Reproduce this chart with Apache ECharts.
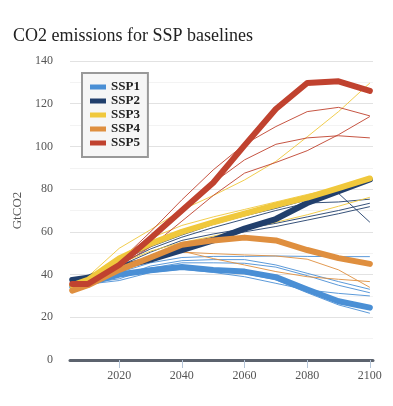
<!DOCTYPE html>
<html>
<head>
<meta charset="utf-8">
<script src="https://cdn.jsdelivr.net/npm/echarts@6/dist/echarts.min.js"></script>
<style>
html,body{margin:0;padding:0;background:#fff;}
#chart{width:393px;height:406px;}
</style>
</head>
<body>
<div id="chart"></div>
<script>
const years = [2005, 2010, 2020, 2030, 2040, 2050, 2060, 2070, 2080, 2090, 2100];
const xTickLabels = [2020, 2040, 2060, 2080, 2100];
const scenarios = ['SSP1', 'SSP2', 'SSP3', 'SSP4', 'SSP5'];
const colors = ['#4a8fd5', '#213f6c', '#f0c83c', '#df8f3f', '#c0422f'];

// marker (thick) scenarios, GtCO2
const ssp1Marker = [34.3, 36, 40, 42, 43.5, 42.2, 41.4, 38.8, 33, 27.5, 24.5];
const ssp2Marker = [37.5, 38.5, 43.5, 47, 51.5, 56, 61.5, 66, 73.5, 79, 84.5];
const ssp3Marker = [35, 37.5, 47.5, 54.5, 60, 64.5, 68.5, 72.5, 76, 80.5, 85];
const ssp4Marker = [32.5, 35, 42.2, 48, 54, 56, 57.3, 56, 51.5, 47.7, 45];
const ssp5Marker = [35.6, 35.6, 44.5, 57, 70, 83, 100.5, 117.5, 129.7, 130.5, 126];

// other models (thin lines)
const ssp1Others = [
  [34.5, 36.5, 41, 45.5, 48, 48.5, 48.5, 48.7, 48.5, 48.4, 48.4],
  [34.5, 36.5, 39, 44, 46.5, 47, 47, 44.5, 40.6, 36.7, 33.1],
  [34, 36, 38, 43, 45.5, 45.5, 45.3, 43.5, 39.5, 35, 31.5],
  [34, 35.5, 37.2, 41, 42.5, 41, 39, 35.9, 32.8, 31.2, 30],
  [34.5, 36, 39.5, 42, 43, 41.5, 40.5, 37.5, 31.5, 25.8, 21.9]
];
const ssp2Others = [
  [36, 39, 46, 53, 58.5, 63.5, 67.5, 71, 75, 78, 64.5],
  [36, 38.5, 45, 52, 57.5, 62, 66, 70, 73.5, 74, 75.3],
  [35, 38, 44, 50.5, 56, 59, 61.5, 64, 67, 70, 73.4],
  [35, 37.5, 43, 49, 54.5, 57.5, 60, 62.5, 65.5, 68.5, 71.8]
];
const ssp3Others = [
  [35, 39, 52.3, 61, 70.3, 77, 84.3, 93, 104.5, 116.3, 129.7],
  [35, 38, 45, 51, 55, 58, 61, 64.5, 68, 72, 76.2],
  [35.5, 38.5, 48, 57, 63, 67, 70.5, 74, 77.5, 80.5, 85]
];
const ssp4Others = [
  [33.5, 36, 43, 48, 50.5, 49.8, 49.2, 48.7, 47.2, 42.2, 34],
  [33.5, 36, 43.5, 48.5, 51, 47.5, 44.5, 41.4, 39, 37.8, 36.7]
];
const ssp5Others = [
  [35, 38, 46, 60, 75, 89, 101, 109.3, 116.3, 118.3, 114.3],
  [35, 38, 46, 58, 71, 83, 93.7, 101, 104, 105, 104],
  [35, 37, 44, 53, 65, 77, 87.5, 92.5, 98, 105.5, 114]
];

const markers = [ssp1Marker, ssp2Marker, ssp3Marker, ssp4Marker, ssp5Marker];
const others = [ssp1Others, ssp2Others, ssp3Others, ssp4Others, ssp5Others];

const pairs = v => years.map((y, i) => [y, v[i]]);
const serif = "'Liberation Serif', 'Times New Roman', serif";

const series = [];
// thin lines first
others.forEach((group, k) => {
  group.forEach(vals => {
    series.push({
      name: scenarios[k], type: 'line', data: pairs(vals),
      showSymbol: false, silent: true, z: 2,
      color: colors[k],
      lineStyle: { width: 1, color: colors[k], opacity: 0.9 }
    });
  });
});
// thick markers on top
markers.forEach((vals, k) => {
  series.push({
    name: scenarios[k], type: 'line', data: pairs(vals),
    showSymbol: false, z: 3 + k,
    color: colors[k],
    lineStyle: { width: 6, color: colors[k], cap: 'round', join: 'round' }
  });
});

const chart = echarts.init(document.getElementById('chart'));
chart.setOption({
  animation: false,
  title: {
    text: 'CO2 emissions for SSP baselines',
    left: 8, top: 22,
    textStyle: { fontFamily: serif, fontSize: 18, fontWeight: 'normal', color: '#222' }
  },
  legend: {
    data: scenarios,
    orient: 'vertical',
    left: 82, top: 73,
    padding: [7, 8, 7, 8],
    itemWidth: 16, itemHeight: 5, itemGap: 0,
    icon: 'rect',
    backgroundColor: '#f6f6f6',
    borderColor: '#999', borderWidth: 2, borderRadius: 0,
    textStyle: { fontFamily: serif, fontSize: 13, fontWeight: 'bold', color: '#222', lineHeight: 14 }
  },
  grid: { left: 70, right: 20, top: 61, bottom: 46, containLabel: false },
  xAxis: {
    type: 'value', min: 2004.3, max: 2101,
    axisLine: { show: true, lineStyle: { color: '#5c636e', width: 3 } },
    axisTick: { show: true, customValues: xTickLabels, length: 8, lineStyle: { color: '#b5c5d8' } },
    axisLabel: { customValues: xTickLabels, formatter: v => String(v), fontFamily: serif, fontSize: 12, color: '#555', margin: 10 },
    splitLine: { show: false }
  },
  yAxis: {
    type: 'value', min: 0, max: 140, interval: 20,
    name: 'GtCO2', nameLocation: 'middle', nameGap: 46, nameRotate: 90,
    nameTextStyle: { fontFamily: serif, fontSize: 13, color: '#555' },
    axisLine: { show: false }, axisTick: { show: false },
    axisLabel: { fontFamily: serif, fontSize: 12, color: '#555', margin: 17 },
    splitLine: { lineStyle: { color: '#e2e2e2', width: 1 } },
    minorTick: { show: false, splitNumber: 2 },
    minorSplitLine: { show: true, lineStyle: { color: '#f3f3f3', width: 1 } }
  },
  series: series
});
</script>
</body>
</html>
